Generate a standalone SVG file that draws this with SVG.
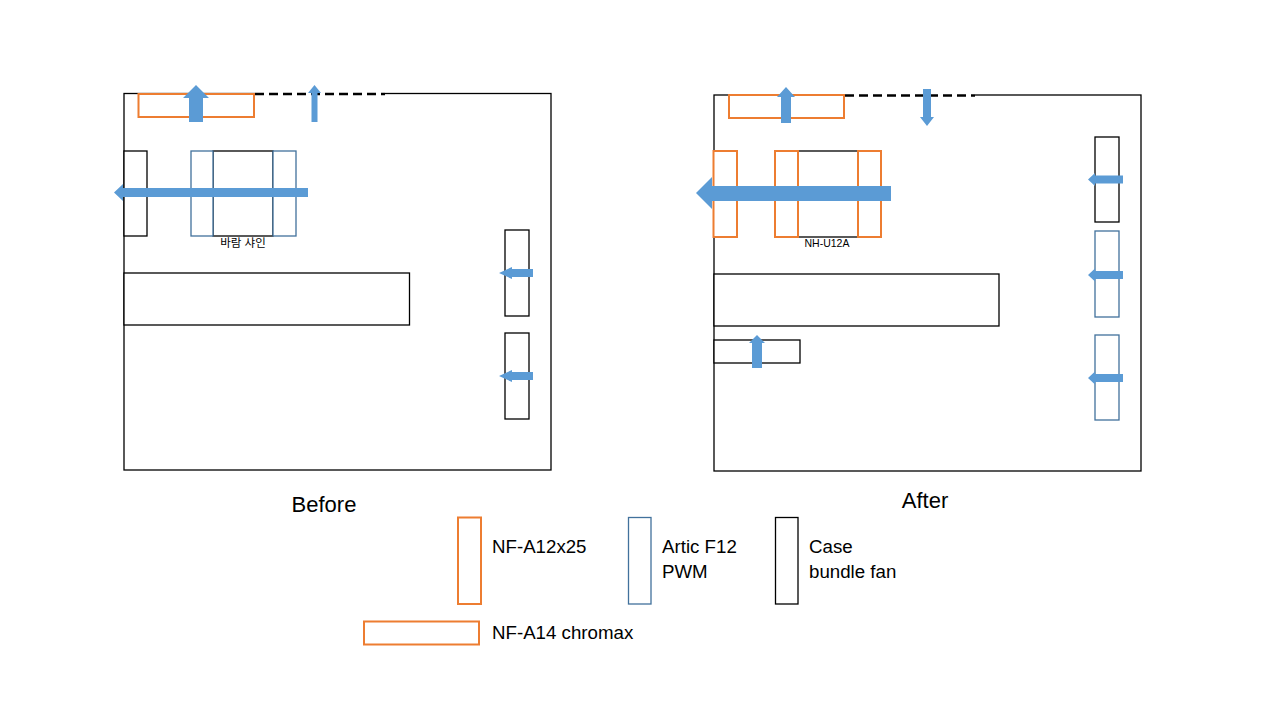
<svg xmlns="http://www.w3.org/2000/svg" width="1280" height="720" viewBox="0 0 1280 720">
<style>
.box{fill:#fff;stroke:#000;stroke-width:1.3}
.blk{fill:#fff;stroke:#000;stroke-width:1.3}
.org{fill:#fff;stroke:#ED7D31;stroke-width:2}
.blu{fill:#fff;stroke:#41719C;stroke-width:1.3}
.arr{fill:#5B9BD5;stroke:none}
.dash{stroke:#000;stroke-width:2.5;stroke-dasharray:9 5;fill:none}
.wl{stroke:#fff;stroke-width:3}
text{font-family:"Liberation Sans",Arial,sans-serif;fill:#000}
.ko{font-family:"Liberation Sans","Noto Sans CJK KR",sans-serif}
</style>
<rect width="1280" height="720" fill="#fff"/>

<g id="before">
  <rect id="before-case" class="box" x="124" y="93.5" width="427" height="376.5"/>
  <line class="wl" x1="255" y1="93.5" x2="385" y2="93.5"/>
  <line class="dash" x1="255" y1="94" x2="385" y2="94"/>
  <g id="before-top-fan"><rect class="org" x="138.5" y="94" width="115.5" height="23"/></g>
  <g id="before-rear-fan"><rect class="blk" x="124" y="151" width="23" height="85"/></g>
  <g id="before-cooler">
    <rect class="blk" x="213" y="151" width="60" height="85"/>
    <rect class="blu" x="191" y="151" width="22" height="85"/>
    <rect class="blu" x="273" y="151" width="23" height="85"/>
    <text class="ko" x="243" y="247" font-size="11.5" text-anchor="middle">바람 샤인</text>
  </g>
  <g id="before-gpu"><rect class="blk" x="124" y="273" width="285.5" height="52"/></g>
  <g id="before-front-fan1"><rect class="blk" x="505" y="230" width="24" height="86"/></g>
  <g id="before-front-fan2"><rect class="blk" x="505" y="333" width="24" height="86"/></g>
  <text x="324" y="512" font-size="22" text-anchor="middle">Before</text>
</g>

<g id="after">
  <rect id="after-case" class="box" x="714" y="95" width="427" height="376"/>
  <line class="wl" x1="845" y1="95" x2="975" y2="95"/>
  <line class="dash" x1="845" y1="95.5" x2="975" y2="95.5"/>
  <g id="after-top-fan"><rect class="org" x="729" y="95" width="115" height="23"/></g>
  <g id="after-rear-fan"><rect class="org" x="713.5" y="151" width="23.5" height="86"/></g>
  <g id="after-cooler">
    <rect class="blk" x="798" y="151" width="60" height="86"/>
    <rect class="org" x="775" y="151" width="23" height="86"/>
    <rect class="org" x="858" y="151" width="23" height="86"/>
    <text x="827" y="247" font-size="10.5" text-anchor="middle">NH-U12A</text>
  </g>
  <g id="after-gpu"><rect class="blk" x="714" y="274" width="285" height="52"/></g>
  <g id="after-bottom-fan"><rect class="blk" x="714" y="340" width="86" height="23"/></g>
  <g id="after-front-fan1"><rect class="blk" x="1095" y="137" width="24" height="85"/></g>
  <g id="after-front-fan2"><rect class="blu" x="1095" y="231" width="24" height="86"/></g>
  <g id="after-front-fan3"><rect class="blu" x="1095" y="335" width="24" height="85"/></g>
  <text x="925" y="508" font-size="22" text-anchor="middle">After</text>
</g>

<g id="connectors">
  <polygon class="arr" points="196,85 209,98 203,98 203,122 189,122 189,98 183,98"/>
  <polygon class="arr" points="314.5,85 321,93 317.5,93 317.5,122 311.5,122 311.5,93 308,93"/>
  <polygon class="arr" points="114,192.5 123,184 123,188 308,188 308,197 123,197 123,201"/>
  <polygon class="arr" points="499,273 512,267 512,269 533,269 533,277 512,277 512,279"/>
  <polygon class="arr" points="499,376 512,370 512,372 533,372 533,380 512,380 512,382"/>

  <polygon class="arr" points="786,87 795,97 791,97 791,123 781,123 781,97 777,97"/>
  <polygon class="arr" points="923,89 931,89 931,117 934,117 927,126 920,117 923,117"/>
  <polygon class="arr" points="696,193 712,177 712,186 891,186 891,201 712,201 712,209"/>
  <polygon class="arr" points="1088,179.5 1095,173 1095,175.5 1123,175.5 1123,183.5 1095,183.5 1095,186"/>
  <polygon class="arr" points="1088,275 1095,268.5 1095,271 1123,271 1123,279 1095,279 1095,281.5"/>
  <polygon class="arr" points="1088,378 1095,371.5 1095,374 1123,374 1123,382 1095,382 1095,384.5"/>
  <polygon class="arr" points="757,335 765,343 762,343 762,368 752,368 752,343 749,343"/>
</g>

<g id="legend">
  <g id="legend-a12"><rect class="org" x="458" y="517.5" width="23" height="86.5"/><text x="492" y="553" font-size="18.7">NF-A12x25</text></g>
  <g id="legend-artic"><rect class="blu" x="628.5" y="517.5" width="22.5" height="86.5"/><text x="662" y="553" font-size="18.7">Artic F12</text><text x="662" y="578" font-size="18.7">PWM</text></g>
  <g id="legend-case"><rect class="blk" x="775.5" y="517.5" width="22.5" height="86.5"/><text x="809" y="553" font-size="18.7">Case</text><text x="809" y="578" font-size="18.7">bundle fan</text></g>
  <g id="legend-a14"><rect class="org" x="364" y="621.5" width="115" height="23"/><text x="492" y="639" font-size="18.7">NF-A14 chromax</text></g>
</g>
</svg>
